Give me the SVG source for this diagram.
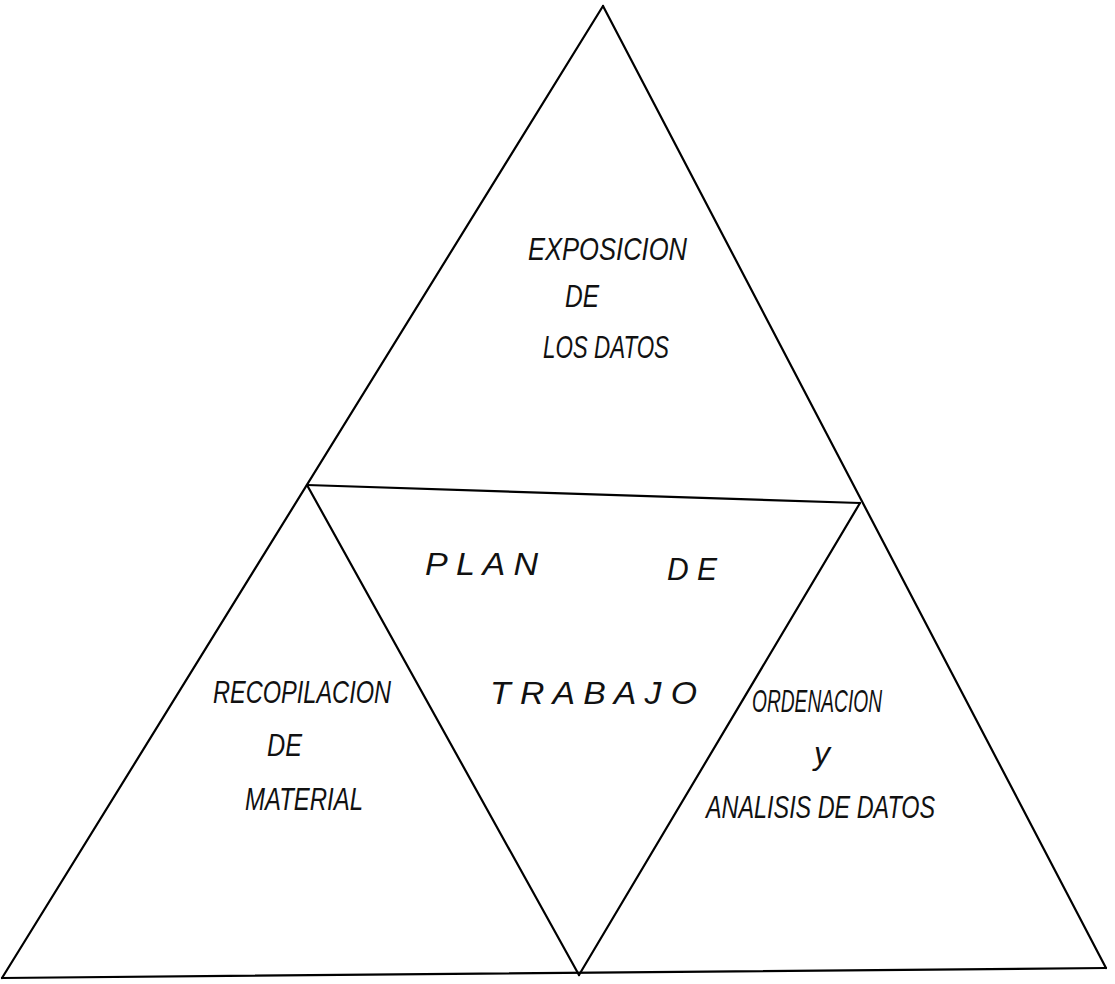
<svg xmlns="http://www.w3.org/2000/svg" width="1115" height="984" viewBox="0 0 1115 984">
<style>
.ln{stroke:#000;stroke-width:2.2;fill:none;stroke-linecap:round}
.t{font-family:"Liberation Sans","DejaVu Sans",sans-serif;font-style:italic;font-size:32px;fill:#111}
</style>
<rect width="1115" height="984" fill="#fff"/>
<g id="connectors">
<line class="ln" x1="603" y1="6" x2="2" y2="978"/>
<line class="ln" x1="603" y1="6" x2="1106" y2="968"/>
<line class="ln" x1="2" y1="978" x2="1106" y2="968"/>
<line class="ln" x1="307" y1="485" x2="860" y2="503"/>
<line class="ln" x1="307" y1="485" x2="579" y2="975"/>
<line class="ln" x1="860" y1="503" x2="579" y2="975"/>
</g>
<g id="top">
<text class="t" x="528" y="260" textLength="159" lengthAdjust="spacingAndGlyphs">EXPOSICION</text>
<text class="t" x="565" y="307" textLength="34" lengthAdjust="spacingAndGlyphs">DE</text>
<text class="t" x="543" y="358" textLength="126" lengthAdjust="spacingAndGlyphs">LOS DATOS</text>
</g>
<g id="center">
<text class="t" x="425" y="575" textLength="113" lengthAdjust="spacingAndGlyphs">P L A N</text>
<text class="t" x="667" y="580" textLength="50" lengthAdjust="spacingAndGlyphs">D E</text>
<text class="t" x="490" y="704" textLength="207" lengthAdjust="spacingAndGlyphs">T R A B A J O</text>
</g>
<g id="left">
<text class="t" x="213" y="703" textLength="178" lengthAdjust="spacingAndGlyphs">RECOPILACION</text>
<text class="t" x="267" y="756" textLength="35" lengthAdjust="spacingAndGlyphs">DE</text>
<text class="t" x="245" y="810" textLength="118" lengthAdjust="spacingAndGlyphs">MATERIAL</text>
</g>
<g id="right">
<text class="t" x="752" y="712" textLength="130" lengthAdjust="spacingAndGlyphs">ORDENACION</text>
<text class="t" x="814" y="764">y</text>
<text class="t" x="706" y="818" textLength="229" lengthAdjust="spacingAndGlyphs">ANALISIS DE DATOS</text>
</g>
</svg>
